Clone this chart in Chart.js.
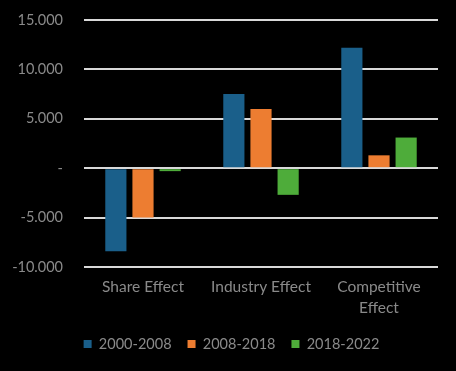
<!DOCTYPE html>
<html>
<head>
<meta charset="utf-8">
<script src="https://cdn.jsdelivr.net/npm/chart.js@4/dist/chart.umd.min.js"></script>
<style>
html,body{margin:0;padding:0;background:#000;}
#wrap{width:456px;height:371px;}
</style>
</head>
<body>
<div id="wrap"><canvas id="c" width="456" height="371"></canvas></div>
<script>
const categories = ["Share Effect", "Industry Effect", ["Competitive", "Effect"]];
const seriesNames = ["2000-2008", "2008-2018", "2018-2022"];
const values2000_2008 = [-8400, 7500, 12200];
const values2008_2018 = [-5000, 6000, 1300];
const values2018_2022 = [-300, -2700, 3100];
const seriesColors = ["#1a5f8a", "#ed7d31", "#4eac3a"];
const yTicks = [-10000, -5000, 0, 5000, 10000, 15000];

const textColor = "#8a8a8a";
const fontFamily = "Lato, 'Open Sans', sans-serif";

function fmt(v){
  if (v === 0) return "-";
  const s = Math.abs(v).toString().replace(/\B(?=(\d{3})+(?!\d))/g, ".");
  return (v < 0 ? "-" : "") + s;
}

new Chart(document.getElementById("c"), {
  type: "bar",
  data: {
    labels: categories,
    datasets: [
      {label: seriesNames[0], data: values2000_2008, backgroundColor: seriesColors[0]},
      {label: seriesNames[1], data: values2008_2018, backgroundColor: seriesColors[1]},
      {label: seriesNames[2], data: values2018_2022, backgroundColor: seriesColors[2]}
    ]
  },
  options: {
    responsive: false,
    animation: false,
    devicePixelRatio: 1,
    categoryPercentage: 0.69,
    barPercentage: 0.78,
    layout: {padding: {top: 20, right: 0, left: 7, bottom: 9.7}},
    plugins: {
      legend: {
        position: "bottom",
        labels: {
          color: textColor,
          boxWidth: 8,
          boxHeight: 8,
          padding: 16,
          font: {family: fontFamily, size: 14.5}
        }
      },
      tooltip: {enabled: false}
    },
    scales: {
      x: {
        grid: {display: false},
        border: {display: false},
        ticks: {color: textColor, font: {family: fontFamily, size: 15.5, lineHeight: 1.35}, padding: 2, maxRotation: 0}
      },
      y: {
        min: yTicks[0],
        max: yTicks[yTicks.length - 1],
        afterBuildTicks: (axis) => { axis.ticks = yTicks.map(v => ({value: v})); },
        afterFit: (axis) => { axis.width = 77; axis.paddingTop = 0; axis.paddingBottom = 0; },
        grid: {color: "#d9d9d9", lineWidth: 2, drawTicks: false},
        border: {display: false},
        ticks: {
          color: textColor,
          font: {family: fontFamily, size: 14.5},
          padding: 21,
          callback: (v) => fmt(v)
        }
      },
      yRightSpacer: {
        position: "right",
        min: yTicks[0],
        max: yTicks[yTicks.length - 1],
        grid: {display: false},
        border: {display: false},
        ticks: {display: false},
        afterFit: (axis) => { axis.width = 18; axis.paddingTop = 0; axis.paddingBottom = 0; }
      }
    }
  }
});
</script>
</body>
</html>
